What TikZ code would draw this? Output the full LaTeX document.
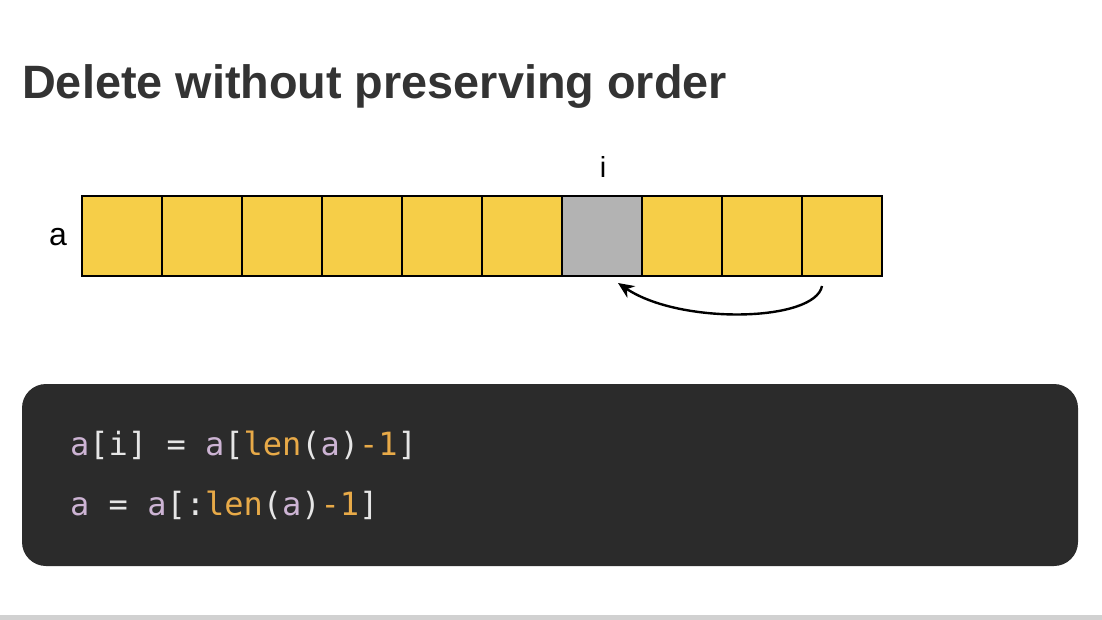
\documentclass[tikz,border=0pt]{standalone}
\usepackage{fontspec}
\setmainfont{Liberation Sans}
\newfontfamily\codefont{DejaVu Sans Mono}
\usetikzlibrary{arrows.meta}
\definecolor{cellyellow}{HTML}{F6CE48}
\definecolor{cellgray}{HTML}{B3B3B3}
\definecolor{codebg}{HTML}{2B2B2B}
\definecolor{cpurple}{HTML}{CDB4D4}
\definecolor{corange}{HTML}{E8AA48}
\definecolor{cwhite}{HTML}{E6E6E6}
\definecolor{titlec}{HTML}{333333}
\begin{document}
\begin{tikzpicture}[x=1pt,y=-1pt,
  cell/.style={draw=black,line width=2pt,fill=cellyellow,minimum size=80pt,inner sep=0pt,anchor=north west},
  codeline/.style={anchor=base west,inner sep=0pt,font=\codefont\fontsize{32}{36}\selectfont,text=cwhite}]
\useasboundingbox (0,0) rectangle (1102,620);
\fill[white] (0,0) rectangle (1102,620);
\fill[black!18] (0,615) rectangle (1102,620);
\node[anchor=base west,inner sep=0pt,text=titlec,font=\bfseries\fontsize{46.8}{52}\selectfont] (title) at (22,99) {Delete without preserving order};
\foreach \k in {0,...,9}{
  \node[cell] (c\k) at (81+80*\k,195) {};
}
\node[cell,fill=cellgray] (c6) at (561,195) {};
\node[font=\fontsize{29}{34}\selectfont,anchor=base] (ilab) at (603,178) {i};
\node[font=\fontsize{32}{38}\selectfont,anchor=base] (alab) at (58,246) {a};
\coordinate (from) at (822,286);
\coordinate (to) at (618,283);
\draw[line width=2.4pt,-{Stealth[length=16pt,width=14pt]}] (from) .. controls (815,322) and (680,325) .. (to);
\fill[codebg,rounded corners=24pt] (22,384) rectangle (1078,566);
\node[codeline] (l1) at (70,455) {\textcolor{cpurple}{a}[i] = \textcolor{cpurple}{a}[\textcolor{corange}{len}(\textcolor{cpurple}{a})\textcolor{corange}{-1}]};
\node[codeline] (l2) at (70,515) {\textcolor{cpurple}{a} = \textcolor{cpurple}{a}[:\textcolor{corange}{len}(\textcolor{cpurple}{a})\textcolor{corange}{-1}]};
\end{tikzpicture}
\end{document}
